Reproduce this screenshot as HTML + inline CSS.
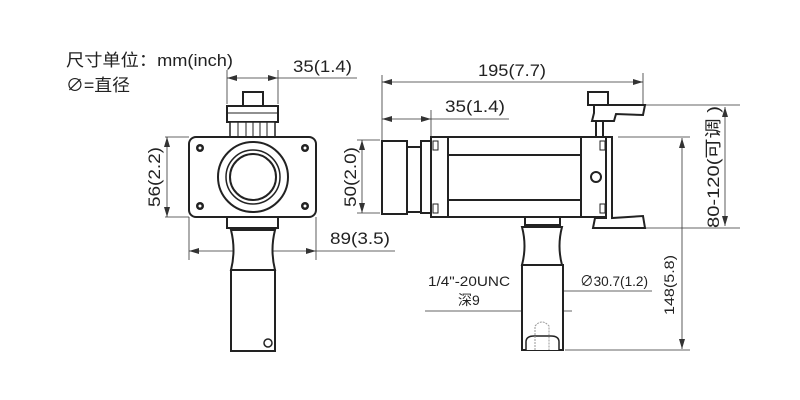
<!DOCTYPE html>
<html><head><meta charset="utf-8"><style>
html,body{margin:0;padding:0;background:#fff;width:800px;height:400px;overflow:hidden}
svg{display:block}
text{font-family:"Liberation Sans","Noto Sans CJK SC",sans-serif;fill:#222}
</style></head><body>
<svg width="800" height="400" viewBox="0 0 800 400" xmlns="http://www.w3.org/2000/svg">
<defs>
<marker id="a" viewBox="0 0 10 6" refX="10" refY="3" markerWidth="10" markerHeight="6" orient="auto-start-reverse" markerUnits="userSpaceOnUse"><path d="M0,0 L10,3 L0,6 z" fill="#333"/></marker>
</defs>
<text x="66" y="66" font-size="17" textLength="167" lengthAdjust="spacingAndGlyphs">尺寸单位：mm(inch)</text>
<text x="66" y="91" font-size="17" textLength="64" lengthAdjust="spacingAndGlyphs">∅=直径</text>

<g stroke="#333" stroke-width="0.8" fill="none">
<line x1="227" y1="70" x2="227" y2="104"/><line x1="278" y1="70" x2="278" y2="104"/>
<line x1="227" y1="78" x2="278" y2="78" marker-start="url(#a)" marker-end="url(#a)"/>
<line x1="278" y1="78" x2="357" y2="78"/>
<line x1="165" y1="137" x2="189" y2="137"/><line x1="165" y1="217" x2="189" y2="217"/>
<line x1="167" y1="137" x2="167" y2="217" marker-start="url(#a)" marker-end="url(#a)"/>
<line x1="189" y1="217" x2="189" y2="260"/><line x1="316" y1="217" x2="316" y2="260"/>
<line x1="189" y1="251" x2="316" y2="251" marker-start="url(#a)" marker-end="url(#a)"/>
<line x1="316" y1="251" x2="395" y2="251"/>
<line x1="357" y1="140" x2="380" y2="140"/><line x1="357" y1="213" x2="380" y2="213"/>
<line x1="362" y1="140" x2="362" y2="213" marker-start="url(#a)" marker-end="url(#a)"/>
<line x1="382" y1="75" x2="382" y2="140"/><line x1="643" y1="73" x2="643" y2="105"/>
<line x1="382" y1="82" x2="643" y2="82" marker-start="url(#a)" marker-end="url(#a)"/>
<line x1="431" y1="110" x2="431" y2="137"/>
<line x1="382" y1="119" x2="431" y2="119" marker-start="url(#a)" marker-end="url(#a)"/>
<line x1="431" y1="119" x2="509" y2="119"/>
<line x1="645" y1="105" x2="740" y2="105"/><line x1="645" y1="228" x2="740" y2="228"/>
<line x1="725" y1="107" x2="725" y2="226" marker-start="url(#a)" marker-end="url(#a)"/>
<line x1="618" y1="137" x2="690" y2="137"/><line x1="565" y1="350" x2="690" y2="350"/>
<line x1="682" y1="138" x2="682" y2="349" marker-start="url(#a)" marker-end="url(#a)"/>
<line x1="525" y1="291" x2="563" y2="291" marker-start="url(#a)" marker-end="url(#a)"/>
<line x1="563" y1="291" x2="652" y2="291"/>
<line x1="425" y1="311" x2="535" y2="311" marker-end="url(#a)"/>
<line x1="550" y1="311" x2="572" y2="311" marker-start="url(#a)"/>
<line x1="535" y1="303" x2="535" y2="330"/><line x1="550" y1="303" x2="550" y2="330"/>
</g>

<g font-size="17">
<text x="293" y="72" textLength="59" lengthAdjust="spacingAndGlyphs">35(1.4)</text>
<text x="330" y="244" textLength="60" lengthAdjust="spacingAndGlyphs">89(3.5)</text>
<text x="478" y="76" textLength="68" lengthAdjust="spacingAndGlyphs">195(7.7)</text>
<text x="445" y="112" textLength="60" lengthAdjust="spacingAndGlyphs">35(1.4)</text>
<text transform="translate(160,177) rotate(-90)" text-anchor="middle" textLength="60" lengthAdjust="spacingAndGlyphs">56(2.2)</text>
<text transform="translate(356,177) rotate(-90)" text-anchor="middle" textLength="60" lengthAdjust="spacingAndGlyphs">50(2.0)</text>
<text transform="translate(719,167) rotate(-90)" text-anchor="middle" textLength="122" lengthAdjust="spacingAndGlyphs">80-120(可调 )</text>
</g>
<g font-size="14">
<text transform="translate(674,285) rotate(-90)" text-anchor="middle" textLength="60" lengthAdjust="spacingAndGlyphs">148(5.8)</text>
<text x="428" y="286" textLength="82" lengthAdjust="spacingAndGlyphs">1/4"-20UNC</text>
<text x="458" y="305">深9</text>
<text x="580" y="286" textLength="68" lengthAdjust="spacingAndGlyphs">∅30.7(1.2)</text>
</g>

<g stroke="#222" stroke-width="2" fill="#fff">
<rect x="243" y="92" width="20" height="14"/>
<rect x="227" y="106" width="51" height="16"/>
<rect x="230" y="122" width="45" height="15" stroke-width="1.5"/>
<rect x="189" y="137" width="127" height="80" rx="7"/>
<circle cx="253" cy="177" r="35"/>
<circle cx="253" cy="177" r="27" stroke-width="1.5"/>
<circle cx="253" cy="177" r="23"/>
<rect x="227" y="217" width="51" height="11"/>
<path d="M231,230 Q236,250 231,270 L275,270 Q270,250 275,230 Z"/>
<rect x="231" y="270" width="44" height="81"/>
<circle cx="268" cy="343" r="4" stroke-width="1.5"/>
</g>
<g stroke="#222" stroke-width="1" fill="none">
<line x1="238" y1="122" x2="238" y2="137"/><line x1="246" y1="122" x2="246" y2="137"/><line x1="253" y1="122" x2="253" y2="137"/><line x1="260" y1="122" x2="260" y2="137"/><line x1="267" y1="122" x2="267" y2="137"/>
<line x1="227" y1="113" x2="278" y2="113"/>
</g>
<g fill="#222">
<circle cx="200" cy="148" r="4"/><circle cx="305" cy="148" r="4"/><circle cx="200" cy="206" r="4"/><circle cx="305" cy="206" r="4"/>
</g>
<g fill="#fff"><circle cx="200" cy="148" r="1.5"/><circle cx="305" cy="148" r="1.5"/><circle cx="200" cy="206" r="1.5"/><circle cx="305" cy="206" r="1.5"/></g>

<g stroke="#222" stroke-width="2" fill="#fff">
<rect x="382" y="141" width="25" height="73"/>
<rect x="407" y="147" width="14" height="65"/>
<rect x="421" y="141" width="10" height="72"/>
<rect x="431" y="137" width="17" height="80"/>
<rect x="448" y="137" width="133" height="80"/>
<line x1="448" y1="155" x2="581" y2="155"/><line x1="448" y1="200" x2="581" y2="200"/>
<rect x="581" y="137" width="25" height="80"/>
<circle cx="596" cy="177" r="5"/>
<rect x="588" y="92" width="20" height="13"/>
<path d="M594,105 L645,105 L643,115 L616,114 L614,121 L592,121 L594,113 Z"/>
<line x1="596" y1="121" x2="596" y2="137"/><line x1="603" y1="121" x2="603" y2="137"/>
<path d="M606,137 L612,137 L612,218 L643,216 L645,228 L593,228 L595,218 L606,218 Z"/>
<rect x="525" y="217" width="35" height="8"/>
<path d="M522,227 Q527,246 522,265 L562,265 Q557,246 562,227 Z"/>
<rect x="522" y="265" width="41" height="85"/>
<path d="M526,350 L526,342 Q526,336 534,336 L551,336 Q559,336 559,342 L559,350" stroke-width="1.5"/>
</g>
<g stroke="#222" stroke-width="1" fill="none">
<rect x="433" y="141" width="5" height="9"/><rect x="433" y="204" width="5" height="9"/>
<rect x="600" y="141" width="5" height="9"/><rect x="600" y="204" width="5" height="9"/>
<path d="M535,350 L535,326 Q542,318 549,326 L549,350" stroke="#999" stroke-dasharray="2,1"/>
</g>
</svg>
</body></html>
